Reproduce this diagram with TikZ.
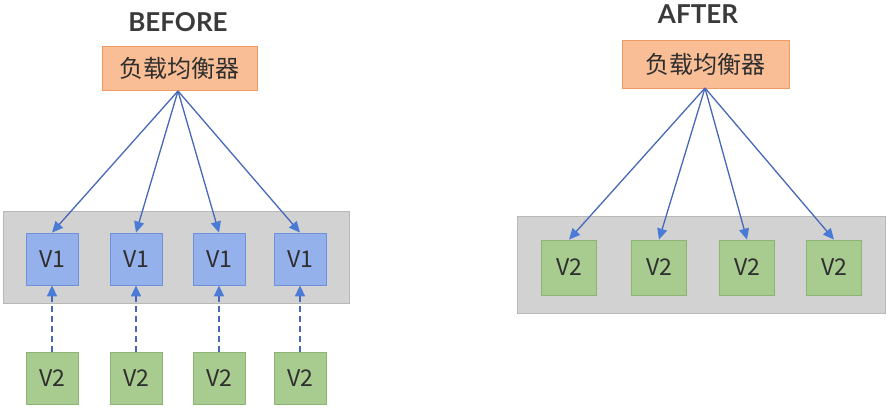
\documentclass[tikz,border=0pt]{standalone}
\usepackage{fontspec}
\setmainfont{Noto Sans CJK SC}
\newfontfamily\titlefont{Lato}
\usetikzlibrary{arrows.meta}
\definecolor{lbfill}{HTML}{F9BE95}
\definecolor{lbdraw}{HTML}{EE9A62}
\definecolor{bluefill}{HTML}{95B1EC}
\definecolor{bluedraw}{HTML}{6F91DC}
\definecolor{greenfill}{HTML}{A8CB90}
\definecolor{greendraw}{HTML}{8CB574}
\definecolor{panelfill}{HTML}{D2D2D2}
\definecolor{paneldraw}{HTML}{B8B8B8}
\definecolor{arrowcol}{HTML}{4768B8}
\definecolor{headcol}{HTML}{4A7BD6}
\definecolor{txt}{HTML}{2E2E2E}
\begin{document}
\begin{tikzpicture}[x=1pt,y=-1pt,
  title/.style={font=\titlefont\bfseries\fontsize{26}{30}\selectfont, text=txt!85!gray},
  lb/.style={draw=lbdraw, fill=lbfill, line width=0.8pt, minimum height=44pt, inner sep=0pt, text=txt, font=\fontsize{24}{28}\selectfont},
  panel/.style={draw=paneldraw, fill=panelfill, line width=0.8pt},
  vone/.style={draw=bluedraw, fill=bluefill, line width=0.8pt, minimum size=52pt, inner sep=0pt, text=txt, font=\fontsize{23}{26}\selectfont},
  vtwo/.style={draw=greendraw, fill=greenfill, line width=0.8pt, minimum size=52pt, inner sep=0pt, text=txt, font=\fontsize{23}{26}\selectfont},
  conn/.style={draw=arrowcol, line width=1.3pt, -{Triangle[length=11pt,width=10pt,color=headcol,fill=headcol]}},
  dconn/.style={conn, dash pattern=on 6pt off 4pt, line width=1.6pt}
]
\useasboundingbox (0,0) rectangle (892,414);
% BEFORE
\node[title] (tb) at (178,22) {BEFORE};
\node[lb, minimum width=155pt] (lbA) at (179.5,68) {负载均衡器};
\node[panel, minimum width=346pt, minimum height=92pt, inner sep=0pt] (panA) at (176,257) {};
\foreach \i/\x in {1/52,2/136,3/219,4/300}{
  \node[vone] (a\i) at (\x,259) {V1};
  \node[vtwo] (b\i) at (\x,378) {V2};
}
\coordinate (srcA) at (178,91);
\foreach \i in {1,...,4}{
  \draw[conn] (srcA) -- (a\i.north);
  \draw[dconn] (b\i.north) -- (a\i.south);
}
% AFTER
\node[title] (ta) at (698,14) {AFTER};
\node[lb, minimum width=167pt, minimum height=48pt] (lbB) at (705.5,64) {负载均衡器};
\node[panel, minimum width=368pt, minimum height=97pt, inner sep=0pt] (panB) at (701,264.5) {};
\foreach \i/\x in {1/569,2/659,3/747,4/834}{
  \node[vtwo, minimum size=55pt] (c\i) at (\x,267.5) {V2};
}
\coordinate (srcB) at (705,88);
\foreach \i in {1,...,4}{
  \draw[conn] (srcB) -- (c\i.north);
}
\end{tikzpicture}
\end{document}
